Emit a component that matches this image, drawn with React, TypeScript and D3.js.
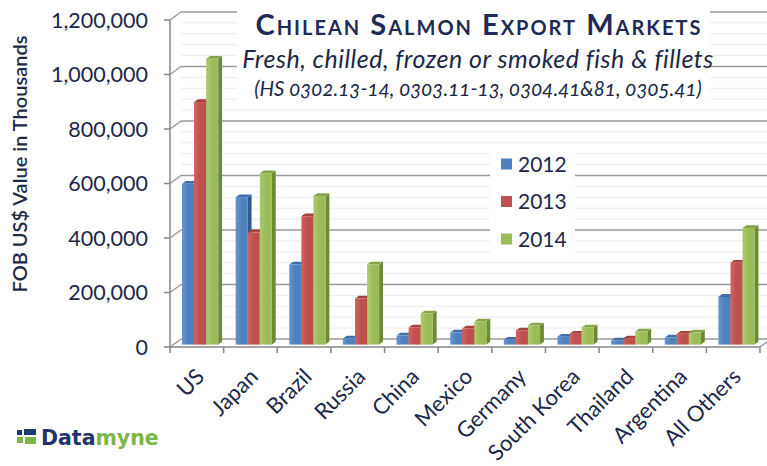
import React from "react";
import * as d3 from "d3";

const categories = ["US", "Japan", "Brazil", "Russia", "China", "Mexico", "Germany", "South Korea", "Thailand", "Argentina", "All Others"];
const series = ["2012", "2013", "2014"];
const values2012 = [590000, 541000, 294000, 22000, 33000, 44000, 18000, 29000, 15000, 26000, 175000];
const values2013 = [890000, 412000, 471000, 169000, 63000, 59000, 52000, 40000, 22000, 40000, 300000];
const values2014 = [1049000, 629000, 545000, 294000, 114000, 85000, 70000, 63000, 48000, 44000, 428000];
const yTicks = [0, 200000, 400000, 600000, 800000, 1000000, 1200000];
const titleText = "Chilean Salmon Export Markets";
const subtitleText = "Fresh, chilled, frozen or smoked fish & fillets";
const codesText = "(HS 0302.13-14, 0303.11-13, 0304.41&81, 0305.41)";
const yAxisTitle = "FOB US$ Value in Thousands";

const seriesValues = [values2012, values2013, values2014];
const front = ["#4f81bd", "#c0504d", "#9bbb59"];
const frontLight = ["#6495d3", "#d3635f", "#aecb6e"];
const side = ["#2f5b91", "#8c2f2c", "#6c8a32"];
const top = ["#3f6ea8", "#a8403c", "#86a548"];

const W = 767, H = 466;
const X0 = 170, X1 = 760;
const DX = 11, DY = -8; // full depth offset
const ZF = 0.3, ZB = 0.65;
const navy = "#1d2747";

export default function App() {
  const y = d3.scaleLinear().domain([0, 1200000]).range([347, 20]);
  const xCat = d3.scaleBand().domain(categories).range([X0, X1]).paddingInner(0.325).paddingOuter(0.1625);
  const xSer = d3.scaleBand().domain(series).range([0, xCat.bandwidth()]);
  const tickX = d3.scaleLinear().domain([0, categories.length]).range([X0, X1]);
  const minor = d3.range(40000, 1200001, 40000).filter((v) => v % 200000 !== 0);
  const fdx = DX * ZF, fdy = DY * ZF;
  const ddx = DX * (ZB - ZF), ddy = DY * (ZB - ZF);
  const fmt = d3.format(",");

  return (
    <svg width={W} height={H} style={{ position: "absolute", left: 0, top: 0, background: "#fff" }} fontFamily="Lato, 'Open Sans', sans-serif">
      <defs>
        {series.map((s, i) => (
          <linearGradient key={s} id={"g" + i} x1="0" x2="1" y1="0" y2="0">
            <stop offset="0" stopColor={frontLight[i]} />
            <stop offset="0.5" stopColor={front[i]} />
            <stop offset="1" stopColor={front[i]} />
          </linearGradient>
        ))}
      </defs>
      {minor.map((v) => (
        <line key={"m" + v} x1={X0 + DX} x2={X1 + DX} y1={y(v) + DY} y2={y(v) + DY} stroke="#ececec" strokeWidth={1} />
      ))}
      {yTicks.map((v) => (
        <g key={"t" + v}>
          <line x1={X0 + DX} x2={X1 + DX} y1={y(v) + DY} y2={y(v) + DY} stroke="#9a9a9a" strokeWidth={1.5} />
          <line x1={X0} x2={X0 + DX} y1={y(v)} y2={y(v) + DY} stroke="#9a9a9a" strokeWidth={1.5} />
          <line x1={X0 - 6} x2={X0} y1={y(v)} y2={y(v)} stroke="#868686" strokeWidth={1.5} />
          <text x={148} y={y(v)} dy="0.36em" textAnchor="end" fontSize={21.5} fill={navy}>{fmt(v)}</text>
        </g>
      ))}
      <line x1={X0} x2={X1} y1={y(0)} y2={y(0)} stroke="#868686" strokeWidth={1.5} />
      <line x1={X1} x2={X1 + DX} y1={y(0)} y2={y(0) + DY} stroke="#9a9a9a" strokeWidth={1.5} />
      <line x1={X0} x2={X0} y1={y(1200000)} y2={y(0)} stroke="#868686" strokeWidth={1.5} />
      {d3.range(categories.length + 1).map((i) => (
        <line key={"xt" + i} x1={tickX(i)} x2={tickX(i)} y1={y(0)} y2={y(0) + 6} stroke="#868686" strokeWidth={1.5} />
      ))}
      <rect x={237} y={0} width={473} height={106} fill="#fff" />
      <text x={479} y={35} textAnchor="middle" fontSize={29} letterSpacing={2} fontWeight={700} fill="#1f2a55" style={{ fontVariant: "small-caps" }}>{titleText}</text>
      <text x={478} y={68} textAnchor="middle" fontSize={25} letterSpacing={0.5} fontStyle="italic" fill={navy}>{subtitleText}</text>
      <text x={478} y={96} textAnchor="middle" fontSize={20.5} fontStyle="italic" fill={navy} style={{ fontVariantNumeric: "oldstyle-nums" }}>{codesText}</text>
      <rect x={490} y={146} width={85} height={108} fill="#fff" />
      {series.map((s, i) => (
        <g key={"l" + s}>
          <rect x={501} y={164 + i * 37.5 - 5.5} width={11} height={11} fill={front[i]} />
          <text x={518} y={164 + i * 37.5} dy="0.36em" fontSize={21} fill={navy}>{s}</text>
        </g>
      ))}
      {categories.map((c, ci) => (
        <g key={"c" + c}>
          {series.map((s, si) => {
            const v = seriesValues[si][ci];
            const x = (xCat(c) as number) + (xSer(s) as number) + fdx;
            const w = xSer.bandwidth();
            const yt = y(v) + fdy;
            const yb = y(0) + fdy;
            return (
              <g key={s}>
                <polygon points={`${x + w},${yt} ${x + w + ddx},${yt + ddy} ${x + w + ddx},${yb + ddy} ${x + w},${yb}`} fill={side[si]} />
                <polygon points={`${x},${yt} ${x + w},${yt} ${x + w + ddx},${yt + ddy} ${x + ddx},${yt + ddy}`} fill={top[si]} />
                <rect x={x} y={yt} width={w} height={yb - yt} fill={`url(#g${si})`} />
              </g>
            );
          })}
        </g>
      ))}
      {categories.map((c) => {
        const cx = (xCat(c) as number) + xCat.bandwidth() / 2;
        return (
          <text key={"xl" + c} transform={`translate(${cx + 9},378) rotate(-45)`} textAnchor="end" fontSize={22} fill={navy}>{c}</text>
        );
      })}
      <text transform="translate(27,164) rotate(-90)" textAnchor="middle" fontSize={20} fontWeight={600} fill="#1f2a44">{yAxisTitle}</text>
      <g>
        <rect x={17} y={430} width={5} height={5} fill="#1e3a6e" />
        <rect x={24} y={429} width={12} height={6} fill="#1e3a6e" />
        <rect x={17} y={437} width={6} height={6} fill="#7ab648" />
        <rect x={25} y={437} width={11} height={7} fill="#7ab648" />
        <text x={41} y={445} fontFamily="'DejaVu Sans', sans-serif" fontWeight={700} fontSize={20.5}>
          <tspan fill="#1f3566">Data</tspan>
          <tspan fill="#7ab648">myne</tspan>
        </text>
      </g>
    </svg>
  );
}
